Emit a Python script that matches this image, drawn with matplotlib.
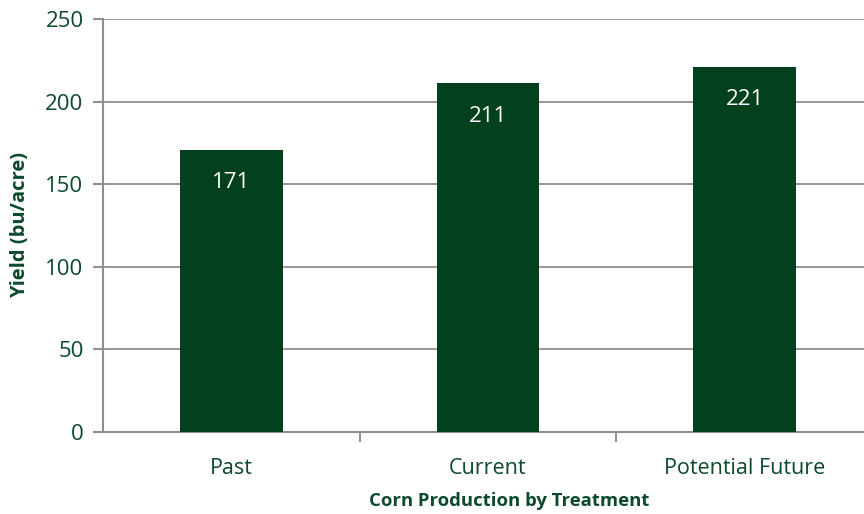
import matplotlib
matplotlib.use("Agg")
import matplotlib.pyplot as plt
import numpy as np

categories = ["Past", "Current", "Potential Future"]
yields = [171, 211, 221]
yticks = [0, 50, 100, 150, 200, 250]

plt.rcParams['font.family'] = ['Open Sans', 'DejaVu Sans']
bar_color = "#03401d"
text_color = "#0b4a2a"
grid_color = "#8c918c"

fig = plt.figure(figsize=(8.64, 5.14), dpi=100)
ax = fig.add_axes([103/864, 82/514, 770/864, 413/514])
x = np.arange(len(categories))
bars = ax.bar(x, yields, width=0.4, color=bar_color, zorder=3)
for b, v in zip(bars, yields):
    ax.text(b.get_x() + b.get_width()/2, v - 20, str(v), ha='center', va='center',
            color='white', fontsize=16)

ax.set_xlim(-0.5, 2.5)
ax.set_ylim(0, 250)
ax.set_yticks(yticks)
ax.set_xticks(x)
ax.set_xticklabels(categories, fontsize=15.5, color=text_color)
ax.tick_params(axis='x', length=0, pad=19)
ax.set_xticks([0.5, 1.5], minor=True)
ax.tick_params(axis='x', which='minor', length=7, color=grid_color, width=1.5)
ax.tick_params(axis='y', labelsize=16, labelcolor=text_color, length=7,
               color=grid_color, width=1.5, pad=7)
ax.grid(axis='y', color=grid_color, linewidth=1.3, zorder=0)
for s in ['top', 'right']:
    ax.spines[s].set_visible(False)
for s in ['left', 'bottom']:
    ax.spines[s].set_color(grid_color)
    ax.spines[s].set_linewidth(1.5)
ax.set_ylabel("Yield (bu/acre)", fontsize=14.5, fontweight='bold', color=text_color)
ax.yaxis.set_label_coords(-73/770, 0.5)
ax.set_xlabel("Corn Production by Treatment", fontsize=13.3, fontweight='bold', color=text_color)
ax.xaxis.set_label_coords((509-103)/770, -(492-432)/413)

fig.savefig("out.png", dpi=100)
